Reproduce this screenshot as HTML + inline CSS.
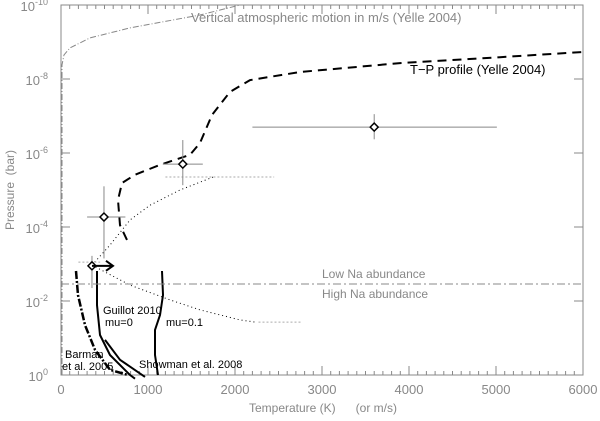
<!DOCTYPE html>
<html><head><meta charset="utf-8"><style>
body{margin:0;background:#fff;width:600px;height:416px;overflow:hidden}
svg{font-family:"Liberation Sans",sans-serif}
</style></head><body>
<svg id="chart" width="600" height="416" viewBox="0 0 600 416" xmlns="http://www.w3.org/2000/svg">
<g id="axes"></g>
<g id="series"></g>
<g id="labels"></g>
</svg>
<script>
// data
const xTicks = [0,1000,2000,3000,4000,5000,6000];
const yTicks = [-10,-8,-6,-4,-2,0];
const tpT = [759,678,655,701,851,1138,1483,1598,1736,1943,2172,2747,3897,5046,6000];
const tpLogP = [-3.65,-4.05,-4.73,-5.19,-5.41,-5.68,-5.95,-6.27,-7.03,-7.65,-7.97,-8.19,-8.43,-8.59,-8.73];
const vmV = [11,11,34,103,333,793,1598,2057];
const vmLogP = [0,-8.38,-8.65,-8.84,-9.11,-9.38,-9.73,-10];
const dotUpT = [356,563,793,1023,1368,1747];
const dotUpLogP = [-2.97,-3.51,-4.19,-4.59,-5.0,-5.35];
const dotLoT = [356,793,1253,1598,2057,2230];
const dotLoLogP = [-2.97,-2.43,-2.03,-1.76,-1.49,-1.43];
const g0T = [414,414,448,563,793,851];
const g0LogP = [-2.81,-1.89,-1.08,-0.54,0,0.1];
const g1T = [1161,1172,1138,1080,1080,1115];
const g1LogP = [-2.81,-2.16,-1.62,-1.22,-0.54,0];
const barT = [172,195,276,391,563,770];
const barLogP = [-2.81,-2.16,-1.35,-0.68,-0.14,0];
const shT = [506,678,966];
const shLogP = [-0.95,-0.41,0.05];
const ptT = [356,494,1400,3600];
const ptLogP = [-2.95,-4.27,-5.7,-6.7];
const ptTlo = [356,300,1170,2200];
const ptThi = [356,740,1630,5010];
const ptPlo = [-3.22,-5.1,-6.35,-7.05];
const ptPhi = [-2.35,-3.15,-5.13,-6.37];
const naLogP = -2.46;

const X = t => 61 + t*0.087;
const Y = lp => 5 + (lp+10)*37;
const NS = "http://www.w3.org/2000/svg";
function mk(tag, attrs, parent){const e=document.createElementNS(NS,tag);for(const k in attrs)e.setAttribute(k,attrs[k]);parent.appendChild(e);return e;}
const axes=document.getElementById('axes'), ser=document.getElementById('series'), lab=document.getElementById('labels');
const gray="#888";
let fr=mk('rect',{x:61,y:5,width:522,height:370,fill:'none',stroke:gray,'stroke-width':1},axes);


for(let t=0;t<=6000;t+=100){
  const big = t%1000===0, len = big?9:4;
  let a=mk('line',{x1:X(t),x2:X(t),y1:375,y2:375-len,stroke:gray},axes);
  
  
  let b=mk('line',{x1:X(t),x2:X(t),y1:5,y2:5+len,stroke:gray},axes);
  
  
}
xTicks.forEach(t=>{
  let tx=mk('text',{x:X(t),y:394,'text-anchor':'middle','font-size':13,fill:gray},axes);tx.textContent=t;
  
  
});
yTicks.forEach(lp=>{
  let a=mk('line',{x1:61,x2:70,y1:Y(lp),y2:Y(lp),stroke:gray},axes);
  
  
  let b=mk('line',{x1:574,x2:583,y1:Y(lp),y2:Y(lp),stroke:gray},axes);
  
  
  let tx=mk('text',{x:48,y:Y(lp)+6,'text-anchor':'end','font-size':13,fill:gray},axes);
  tx.innerHTML='10<tspan dy="-6" font-size="9">'+lp+'</tspan>';
  
  
});
let xt=mk('text',{x:323,y:412,'text-anchor':'middle','font-size':12,fill:gray},axes);
xt.textContent='Temperature (K)\u00a0\u00a0\u00a0\u00a0\u00a0\u00a0(or m/s)';


let yt=mk('text',{x:0,y:0,'text-anchor':'middle','font-size':12,fill:gray,transform:'translate(14,190) rotate(-90)'},axes);
yt.textContent='Pressure\u00a0\u00a0(bar)';



function curve(ts,ps,style,name){
  const d=ts.map((t,i)=>(i?'L':'M')+X(t).toFixed(1)+','+Y(ps[i]).toFixed(1)).join(' ');
  const p=mk('path',Object.assign({d:d,fill:'none','stroke-linejoin':'round'},style),ser);
  
  
}
curve(vmV,vmLogP,{stroke:gray,'stroke-dasharray':'6,2,1,2'},'vertical-motion-line');
curve(tpT,tpLogP,{stroke:'#000','stroke-width':2,'stroke-dasharray':'9,6'},'tp-profile-line');
curve(dotUpT,dotUpLogP,{stroke:'#000','stroke-dasharray':'1,3'},'dotted-upper-line');
curve(dotLoT,dotLoLogP,{stroke:'#000','stroke-dasharray':'1,3'},'dotted-lower-line');
curve(g0T,g0LogP,{stroke:'#000','stroke-width':2},'guillot-mu0-line');
curve(g1T,g1LogP,{stroke:'#000','stroke-width':2},'guillot-mu01-line');
curve(barT,barLogP,{stroke:'#000','stroke-width':2.5,'stroke-dasharray':'8,2,2,2'},'barman-line');
curve(shT,shLogP,{stroke:'#000','stroke-width':2},'showman-line');
[[1200,2450,-5.35],[2270,2760,-1.43],[200,450,-3.05]].forEach(a=>{
  let l=mk('line',{x1:X(a[0]),x2:X(a[1]),y1:Y(a[2]),y2:Y(a[2]),stroke:'#aaa','stroke-dasharray':'2,2'},ser);
  
  
});
let na=mk('line',{x1:61,x2:583,y1:Y(naLogP),y2:Y(naLogP),stroke:gray,'stroke-dasharray':'8,3,2,3'},ser);


ptT.forEach((t,i)=>{
  let h=mk('line',{x1:X(ptTlo[i]),x2:X(ptThi[i]),y1:Y(ptLogP[i]),y2:Y(ptLogP[i]),stroke:gray},ser);
  
  
  let v=mk('line',{x1:X(t),x2:X(t),y1:Y(ptPlo[i]),y2:Y(ptPhi[i]),stroke:gray},ser);
  
  
  const cx=X(t),cy=Y(ptLogP[i]);
  let dm=mk('path',{d:`M${cx-4},${cy} L${cx},${cy-4} L${cx+4},${cy} L${cx},${cy+4} Z`,fill:'#fff',stroke:'#000','stroke-width':1.5},ser);
  
  
});
{const cx=X(ptT[0]),cy=Y(ptLogP[0]);
let ar=mk('path',{d:`M${cx},${cy} H${cx+21} M${cx+14},${cy-5} L${cx+21},${cy} L${cx+14},${cy+5}`,fill:'none',stroke:'#000','stroke-width':2},ser);

}

function label(x,y,txt,fill,name,size){
  let t=mk('text',{x:x,y:y,'font-size':size||12,fill:fill},lab);t.textContent=txt;
  
  
}
label(191,22,'Vertical atmospheric motion in m/s (Yelle 2004)',gray,'vertical-motion-label',13);
label(410,74,'T\u2212P profile (Yelle 2004)','#000','tp-profile-label',13);
label(322,278,'Low Na abundance',gray,'low-na-label');
label(322,298,'High Na abundance',gray,'high-na-label');
label(103,314,'Guillot 2010','#000','guillot-label',11);
label(105,326,'mu=0','#000','mu0-label',11);
label(166,326,'mu=0.1','#000','mu01-label',11);
label(65,358,'Barman','#000','barman-label',11);
label(62,370,'et al. 2005','#000','barman-label-2',11);
label(139,368,'Showman et al. 2008','#000','showman-label',11);
</script>
</body></html>
